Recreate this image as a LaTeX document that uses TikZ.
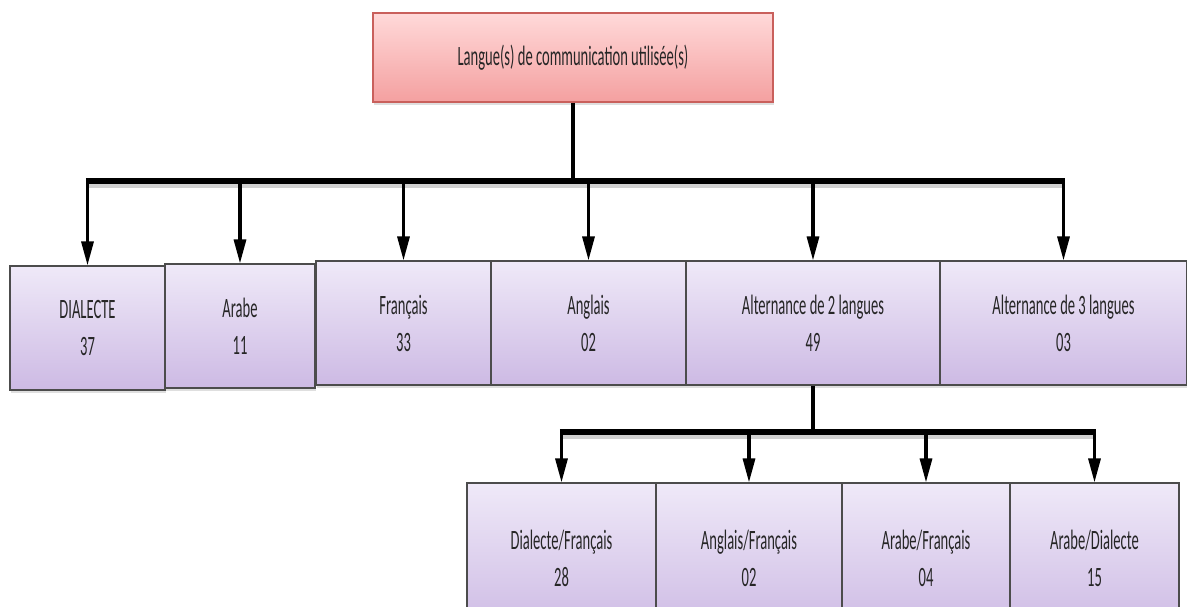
\documentclass[tikz,border=0pt]{standalone}
\usepackage{fontspec}
\setmainfont{Carlito}[FakeStretch=0.52]
\usetikzlibrary{arrows.meta,shadows}

\definecolor{lavtop}{HTML}{EFE9F8}
\definecolor{lavbot}{HTML}{CDBAE4}
\definecolor{pinktop}{HTML}{FFD9D9}
\definecolor{pinkbot}{HTML}{F4A0A0}
\definecolor{pinkrim}{HTML}{C9605C}
\definecolor{txt}{HTML}{262626}

\tikzset{
  cell/.style={draw=black!70, line width=1.1pt, top color=lavtop, bottom color=lavbot,
    inner sep=0pt, align=center, text=txt,
    font=\fontsize{28}{37}\selectfont,
    drop shadow={opacity=0.25, shadow xshift=1pt, shadow yshift=-3pt}},
  headbox/.style={draw=pinkrim, line width=1.1pt, top color=pinktop, bottom color=pinkbot,
    inner sep=0pt, align=center, text=txt,
    font=\fontsize{28}{37}\selectfont,
    drop shadow={opacity=0.25, shadow xshift=1pt, shadow yshift=-3pt}},
  bus/.style={line width=6.5pt, line cap=butt, black},
  busshade/.style={line width=6.5pt, black, opacity=0.18},
  stem/.style={line width=3.5pt, black},
  feed/.style={line width=3.2pt, black, -{Triangle[length=24pt,width=12pt]}},
}

\begin{document}
\begin{tikzpicture}[x=1pt,y=-1pt]
  \useasboundingbox (0,0) rectangle (1187,606);
  \clip (0,0) rectangle (1187,606);

  % title box
  \node[headbox, minimum width=400pt, minimum height=89pt] (head) at (573,57.5)
    {Langue(s) de communication utilisée(s)};

  % first level
  \node[cell, minimum width=155pt, minimum height=124pt] (dial) at (87.5,328) {DIALECTE\\37};
  \node[cell, minimum width=150pt, minimum height=124pt] (arab) at (240,326) {Arabe\\11};
  \node[cell, minimum width=175pt, minimum height=124pt] (fran) at (403.5,323) {Français\\33};
  \node[cell, minimum width=195pt, minimum height=124pt] (angl) at (588.5,323) {Anglais\\02};
  \node[cell, minimum width=254pt, minimum height=124pt] (alt2) at (813,323) {Alternance de 2 langues\\49};
  \node[cell, minimum width=247pt, minimum height=124pt] (alt3) at (1063.5,323) {Alternance de 3 langues\\03};

  % second level
  \node[cell, minimum width=189pt, minimum height=150pt] (df) at (561.5,558) {Dialecte/Français\\28};
  \node[cell, minimum width=186pt, minimum height=150pt] (af) at (749,558) {Anglais/Français\\02};
  \node[cell, minimum width=168pt, minimum height=150pt] (arf) at (926,558) {Arabe/Français\\04};
  \node[cell, minimum width=169pt, minimum height=150pt] (ard) at (1094.5,558) {Arabe/Dialecte\\15};

  % bus bars
  \coordinate (busA) at (0,181);
  \coordinate (busB) at (0,432);

  % shadow of the connectors
  \draw[busshade] ([yshift=-4pt]dial.north |- busA) -- ([yshift=-4pt]alt3.north |- busA);
  \draw[busshade] ([yshift=-4pt]df.north |- busB) -- ([yshift=-4pt]ard.north |- busB);

  % first level connectors
  \draw[stem] (head.south) -- (head.south |- busA);
  \draw[bus] ([xshift=-1.6pt]dial.north |- busA) -- ([xshift=1.6pt]alt3.north |- busA);
  \foreach \n in {dial,arab,fran,angl,alt2,alt3}
    \draw[feed] (\n.north |- busA) -- (\n.north);

  % second level connectors
  \draw[stem] (alt2.south) -- (alt2.south |- busB);
  \draw[bus] ([xshift=-1.6pt]df.north |- busB) -- ([xshift=1.6pt]ard.north |- busB);
  \foreach \n in {df,af,arf,ard}
    \draw[feed] (\n.north |- busB) -- (\n.north);
\end{tikzpicture}
\end{document}
